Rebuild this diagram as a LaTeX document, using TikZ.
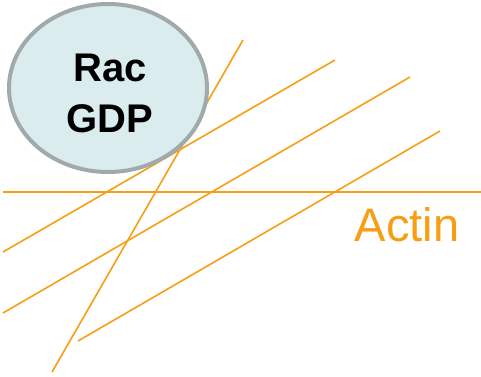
\documentclass[tikz,border=0pt]{standalone}
\usepackage{fontspec}
\setmainfont{Liberation Sans}
\usetikzlibrary{shapes.geometric}
\definecolor{actinorange}{RGB}{246,158,20}
\definecolor{racfill}{RGB}{219,236,238}
\definecolor{racline}{RGB}{160,170,170}
\tikzset{
  filament/.style={draw=actinorange,line width=1.6pt},
  racblob/.style={ellipse,draw=racline,fill=racfill,line width=4pt,minimum width=198pt,minimum height=168pt}
}
\begin{document}
\begin{tikzpicture}[x=1pt,y=-1pt]
    \useasboundingbox (0,0) rectangle (481,376);
    % actin filaments
    \draw[filament] (3,192)--(481,192);
    \draw[filament] (243,40)--(52,372);
    \draw[filament] (3,252)--(335,60);
    \draw[filament] (3,313)--(410,77);
    \draw[filament] (78,341)--(440,131);
    \node[text=actinorange,font=\fontsize{47}{50}\selectfont,anchor=base](actin) at (407,241) {Actin};
    % Rac on top
    \node[racblob](rac) at (108,88) {};
    \node[font=\fontsize{40}{51}\selectfont\bfseries,align=center](racname) at (110,93) {Rac\\GDP};
\end{tikzpicture}
\end{document}
